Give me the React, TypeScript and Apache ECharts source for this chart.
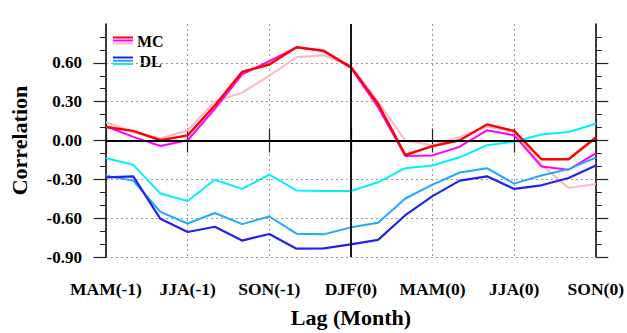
import React, { useEffect, useRef } from "react";
import * as echarts from "echarts";

const months = [
  "MAM(-1)", "AMJ(-1)", "MJJ(-1)", "JJA(-1)", "JAS(-1)", "ASO(-1)", "SON(-1)",
  "OND(-1)", "NDJ(-1)", "DJF(0)", "JFM(0)", "FMA(0)", "MAM(0)", "AMJ(0)",
  "MJJ(0)", "JJA(0)", "JAS(0)", "ASO(0)", "SON(0)",
];

const yTickValues = [-0.9, -0.6, -0.3, 0, 0.3, 0.6];

const mcRed = [0.104, 0.074, 0.002, 0.04, 0.27, 0.53, 0.587, 0.72, 0.694, 0.567, 0.282, -0.112, -0.043, 0.002, 0.124, 0.074, -0.145, -0.145, 0.023];
const mcMagenta = [0.11, 0.028, -0.043, 0.002, 0.244, 0.511, 0.613, 0.72, 0.69, 0.56, 0.257, -0.12, -0.115, -0.048, 0.079, 0.04, -0.2, -0.226, -0.099];
const mcPink = [0.142, 0.066, 0.015, 0.079, 0.3, 0.37, 0.5, 0.643, 0.658, 0.574, 0.3, -0.002, -0.036, 0.028, 0.109, 0.066, -0.188, -0.366, -0.336];
const dlBlue = [-0.285, -0.277, -0.605, -0.707, -0.666, -0.773, -0.722, -0.836, -0.834, -0.803, -0.768, -0.577, -0.43, -0.31, -0.277, -0.374, -0.346, -0.29, -0.193];
const dlSky = [-0.272, -0.31, -0.552, -0.641, -0.56, -0.646, -0.587, -0.72, -0.725, -0.671, -0.636, -0.448, -0.341, -0.247, -0.214, -0.333, -0.27, -0.221, -0.132];
const dlCyan = [-0.137, -0.188, -0.41, -0.468, -0.303, -0.374, -0.264, -0.386, -0.39, -0.39, -0.323, -0.214, -0.193, -0.13, -0.036, -0.01, 0.046, 0.066, 0.13];

const FONT = "'Liberation Serif', 'Times New Roman', serif";

const C_RED = "#FF0000";
const C_MAG = "#FF00FF";
const C_PINK = "#FFB6C1";
const C_BLUE = "#2222EE";
const C_SKY = "#1EAAFF";
const C_CYAN = "#00F0FF";

export default function App() {
  const ref = useRef<HTMLDivElement>(null);
  useEffect(() => {
    if (!ref.current) return;
    const chart = echarts.init(ref.current, undefined, { renderer: "svg" });
    const frame = { show: true, lineStyle: { color: "#000", width: 1.5 } };
    const tickStyle = { color: "#222", width: 1.2 };
    const gridLine = { show: true, interval: 2, lineStyle: { color: "#999", type: [2, 3] as any, width: 1 } };
    const mk = (name: string, data: number[], color: string, width: number, z: number, extra: any = {}) => ({
      name,
      type: "line",
      data,
      showSymbol: false,
      symbol: "none",
      z,
      lineStyle: { color, width },
      itemStyle: { color },
      ...extra,
    });
    const option: any = {
      animation: false,
      backgroundColor: "#fff",
      grid: { left: 99, right: 29, top: 24, bottom: 73, containLabel: false },
      xAxis: [
        {
          type: "category",
          data: months,
          boundaryGap: false,
          position: "bottom",
          axisLine: frame,
          axisTick: { show: true, interval: 2, length: 12, lineStyle: tickStyle },
          axisLabel: {
            interval: 2,
            margin: 23,
            color: "#000",
            fontFamily: FONT,
            fontWeight: "bold",
            fontSize: 17.5,
          },
          splitLine: gridLine,
          name: "Lag (Month)",
          nameLocation: "middle",
          nameGap: 49,
          nameTextStyle: { color: "#000", fontFamily: FONT, fontWeight: "bold", fontSize: 22 },
        },
        {
          type: "category",
          data: months,
          boundaryGap: false,
          position: "top",
          axisLine: frame,
          axisTick: { show: true, interval: 2, length: 12, lineStyle: tickStyle },
          axisLabel: { show: false },
          splitLine: { show: false },
        },
      ],
      yAxis: [
        {
          type: "value",
          min: -0.9,
          max: 0.9,
          interval: 0.3,
          position: "left",
          axisLine: frame,
          axisTick: { show: true, length: 12.5, lineStyle: tickStyle, customValues: yTickValues },
          minorTick: { show: true, splitNumber: 3, length: 6, lineStyle: { color: "#222", width: 1 } },
          axisLabel: {
            margin: 24,
            color: "#000",
            fontFamily: FONT,
            fontWeight: "bold",
            fontSize: 17,
            customValues: yTickValues,
            formatter: (v: number) => (v > 0.85 ? "" : v.toFixed(2)),
          },
          splitLine: { show: true, lineStyle: { color: "#999", type: [2, 3], width: 1 } },
          name: "Correlation",
          nameLocation: "middle",
          nameGap: 76,
          nameTextStyle: { color: "#000", fontFamily: FONT, fontWeight: "bold", fontSize: 22 },
        },
        {
          type: "value",
          min: -0.9,
          max: 0.9,
          interval: 0.3,
          position: "right",
          axisLine: frame,
          axisTick: { show: true, length: 12.5, lineStyle: tickStyle, customValues: yTickValues },
          minorTick: { show: true, splitNumber: 3, length: 6, lineStyle: { color: "#222", width: 1 } },
          axisLabel: { show: false },
          splitLine: { show: false },
        },
      ],
      series: [
        mk("MC3", mcPink, C_PINK, 2, 2, {
          markLine: {
            silent: true,
            symbol: "none",
            label: { show: false },
            lineStyle: { color: "#000", type: "solid", width: 1.8 },
            data: [{ yAxis: 0 }, { xAxis: months[9] }],
          },
        }),
        mk("MC2", mcMagenta, C_MAG, 2, 3),
        mk("MC1", mcRed, C_RED, 2.4, 4),
        mk("DL3", dlCyan, C_CYAN, 2, 2),
        mk("DL2", dlSky, C_SKY, 2, 3),
        mk("DL1", dlBlue, C_BLUE, 2.2, 4),
      ],
      graphic: [
        { type: "line", shape: { x1: 113, y1: 37.5, x2: 133, y2: 37.5 }, style: { stroke: C_RED, lineWidth: 2 } },
        { type: "line", shape: { x1: 113, y1: 40.5, x2: 133, y2: 40.5 }, style: { stroke: C_MAG, lineWidth: 2 } },
        { type: "line", shape: { x1: 113, y1: 43.5, x2: 133, y2: 43.5 }, style: { stroke: C_PINK, lineWidth: 2 } },
        { type: "text", left: 137, top: 33, style: { text: "MC", fill: "#000", font: `bold 16px ${FONT}` } },
        { type: "line", shape: { x1: 113, y1: 57.5, x2: 133, y2: 57.5 }, style: { stroke: C_BLUE, lineWidth: 2 } },
        { type: "line", shape: { x1: 113, y1: 60.8, x2: 133, y2: 60.8 }, style: { stroke: C_SKY, lineWidth: 2 } },
        { type: "line", shape: { x1: 113, y1: 64, x2: 133, y2: 64 }, style: { stroke: C_CYAN, lineWidth: 2 } },
        { type: "text", left: 139.5, top: 53, style: { text: "DL", fill: "#000", font: `bold 16px ${FONT}` } },
      ],
    };
    chart.setOption(option);
    return () => chart.dispose();
  }, []);
  return (
    <div
      ref={ref}
      style={{ position: "fixed", left: 0, top: 0, width: 627, height: 333, background: "#fff" }}
    />
  );
}
